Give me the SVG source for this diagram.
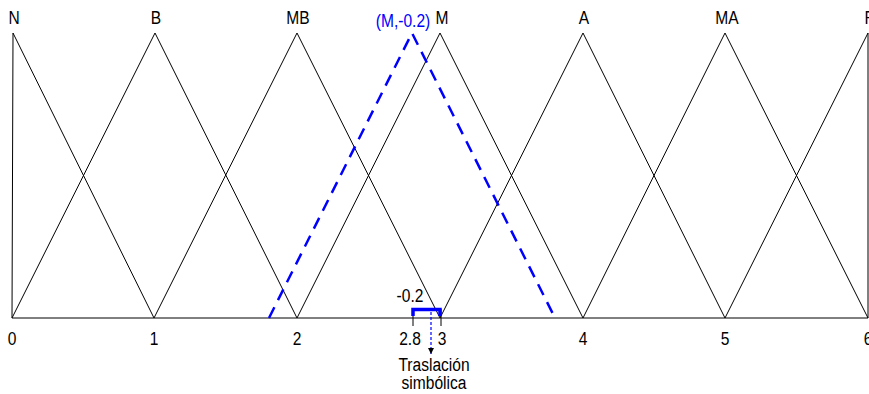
<svg xmlns="http://www.w3.org/2000/svg" width="869" height="394" viewBox="0 0 869 394">
<defs>
<style>
.t{font-family:"Liberation Sans",Arial,sans-serif;font-size:19px;fill:#000;text-anchor:middle}
.b{fill:#0000ff}
.mf{fill:none;stroke:#000;stroke-width:1}
.bd{fill:none;stroke:#0000ff;stroke-width:2.5;stroke-dasharray:12,8}
</style>
<marker id="ah" viewBox="0 0 10 10" refX="10" refY="5" markerWidth="6" markerHeight="10" orient="auto" markerUnits="userSpaceOnUse">
<path d="M0,0 L10,5 L0,10 z" fill="#000"/>
</marker>
</defs>
<rect width="869" height="394" fill="#fff"/>
<g id="axis">
<line x1="12" y1="318" x2="868" y2="318" stroke="#000" stroke-width="1"/>
<text class="t" transform="translate(12,345) scale(0.82,1)">0</text>
<text class="t" transform="translate(154,345) scale(0.82,1)">1</text>
<text class="t" transform="translate(297,345) scale(0.82,1)">2</text>
<text class="t" transform="translate(583,345) scale(0.82,1)">4</text>
<text class="t" transform="translate(725,345) scale(0.82,1)">5</text>
<text class="t" transform="translate(868,345) scale(0.82,1)">6</text>
</g>
<g id="N"><polyline class="mf" points="12,318 13,33 154,318"/><text class="t" transform="translate(14,24) scale(0.82,1)">N</text></g>
<g id="B"><polyline class="mf" points="12,318 155,33 297,318"/><text class="t" transform="translate(156,24) scale(0.82,1)">B</text></g>
<g id="MB"><polyline class="mf" points="154,318 297,33 440,318"/><text class="t" transform="translate(298,24) scale(0.82,1)">MB</text></g>
<g id="M"><polyline class="mf" points="297,318 440,33 583,318"/><text class="t" transform="translate(442,24) scale(0.82,1)">M</text></g>
<g id="A"><polyline class="mf" points="440,318 583,33 725,318"/><text class="t" transform="translate(584,24) scale(0.82,1)">A</text></g>
<g id="MA"><polyline class="mf" points="583,318 725,33 868,318"/><text class="t" transform="translate(727,24) scale(0.82,1)">MA</text></g>
<g id="R"><polyline class="mf" points="725,318 868,33 868,318"/><text class="t" transform="translate(870,24) scale(0.82,1)">R</text></g>
<g id="Mshift">
<polyline class="bd" points="269,318 412,33 555,318"/>
<text class="t b" transform="translate(403,27) scale(0.82,1)">(M,-0.2)</text>
</g>
<g id="translation">
<line x1="413" y1="309" x2="413" y2="326" stroke="#000" stroke-width="1"/>
<line x1="441" y1="309" x2="441" y2="326" stroke="#000" stroke-width="1"/>
<polyline points="413,316 413,309.5 440,309.5 440,316" fill="none" stroke="#0000ff" stroke-width="3.5"/>
<text class="t" transform="translate(410,302) scale(0.82,1)">-0.2</text>
<text class="t" transform="translate(410,345) scale(0.82,1)">2.8</text>
<text class="t" transform="translate(442,345) scale(0.82,1)">3</text>
</g>
<g id="connectors">
<line x1="431" y1="312" x2="431" y2="354" stroke="#0000ff" stroke-width="1.2" stroke-dasharray="3,2" marker-end="url(#ah)"/>
</g>
<g id="label">
<text class="t" transform="translate(434,371) scale(0.82,1)">Traslación</text>
<text class="t" transform="translate(434,389) scale(0.82,1)">simbólica</text>
</g>
</svg>
